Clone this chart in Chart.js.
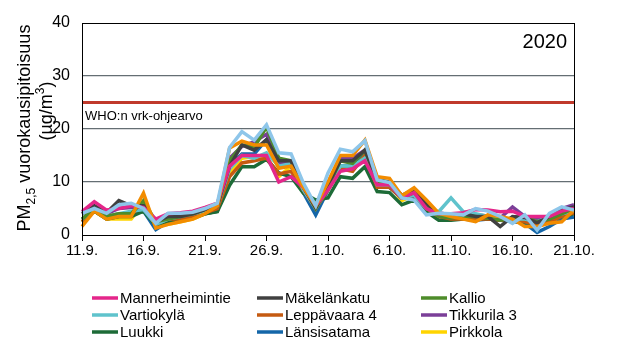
<!DOCTYPE html>
<html>
<head>
<meta charset="utf-8">
<script src="https://cdn.jsdelivr.net/npm/chart.js@4"></script>
<style>
  html, body { margin: 0; padding: 0; background: #fff; }
  #wrap { width: 620px; height: 353px; }
</style>
</head>
<body>
<div id="wrap"><canvas id="grafico"></canvas></div>
<script>
// ============================ DATA ============================ //

const dates = ["11.9.", "12.9.", "13.9.", "14.9.", "15.9.", "16.9.", "17.9.", "18.9.", "19.9.", "20.9.",
  "21.9.", "22.9.", "23.9.", "24.9.", "25.9.", "26.9.", "27.9.", "28.9.", "29.9.", "30.9.",
  "1.10.", "2.10.", "3.10.", "4.10.", "5.10.", "6.10.", "7.10.", "8.10.", "9.10.", "10.10.",
  "11.10.", "12.10.", "13.10.", "14.10.", "15.10.", "16.10.", "17.10.", "18.10.", "19.10.", "20.10.", "21.10."];

const yearLabel = "2020";
const whoLimit = 25;
const whoLabel = "WHO:n vrk-ohjearvo";

const mannerheimintie = [4.4, 6.3, 4.7, 5, 5.5, 5.2, 3, 4, 4.2, 4.5, 5.2, 6, 13, 15, 15, 15, 10, 11, 9, 5.5, 8.5, 12, 12.5, 14, 9.5, 9.5, 7, 8, 5, 4, 4, 4.2, 4.8, 4.7, 4.4, 4.5, 3.5, 3.5, 3.5, 4.5, 5];
const makelankatu = [4, 5.5, 4.2, 6.5, 5.5, 5.5, 2.5, 3.5, 3.5, 4, 4.8, 5.5, 13, 17, 16, 18, 14, 14, 9, 5.2, 9.5, 14, 14, 16, 10.5, 10, 7.5, 8.5, 6, 4, 3.8, 4, 3.5, 3.5, 1.6, 3.5, 3.3, 2.3, 3.5, 4.7, 5.3];
const kallio = [3, 5, 3.5, 4, 4, 6.5, 2.5, 3, 3.5, 4, 4.8, 5.5, 14, 17, 16.5, 20.4, 14.5, 14, 9, 5, 9, 14, 13.5, 16, 10, 9.5, 7, 8, 5.5, 3.5, 3.2, 3.5, 3.5, 3.2, 2.8, 3.2, 3.5, 2.5, 3, 4, 5];
const vartiokyla = [3, 5, 3.5, 4, 4.5, 4.8, 2, 3, 3.5, 4, 4.5, 5.5, 12.5, 15, 14.5, 15.5, 13, 13.5, 8.5, 5, 9, 13, 13, 14.5, 9.5, 9.5, 7, 7.5, 5, 4.4, 7, 4.4, 4, 3.5, 3, 3, 3, 2.5, 3.5, 4, 4.5];
const leppavaara = [2.5, 4.8, 3.5, 4, 4, 5.5, 2, 3, 3, 3.5, 4.2, 5, 11, 13.6, 14, 14.5, 11.5, 12, 8.5, 5, 8.5, 12.5, 12, 15, 9, 9, 7, 7.5, 5, 3.5, 3, 3, 3, 3, 2.8, 3, 2.5, 2, 2.5, 3.5, 4.2];
const tikkurila = [4, 5.5, 4, 5, 5.2, 5.2, 2.5, 3.5, 3.5, 4, 4.5, 5.5, 14.5, 16.7, 17.6, 19, 13.5, 13.5, 8.5, 5, 9, 14.5, 14.5, 16, 10, 9.5, 7, 7.5, 5.5, 4.2, 3.8, 3.8, 3.8, 3.6, 3.2, 5.3, 3.5, 3, 3, 5, 5.7];
const luukki = [2.5, 4.5, 3, 3.5, 3.5, 4.5, 1.8, 2.5, 2.8, 3.2, 4, 4.4, 9.4, 12.9, 12.9, 14.3, 11.7, 11, 7.9, 6.6, 7, 11, 10.7, 12.9, 8.2, 8, 5.7, 6.6, 4.4, 2.8, 2.8, 3, 3, 3, 2.8, 2.6, 2.4, 1.8, 2.8, 3.5, 4];
const lansisatama = [3, 4.5, 3.2, 3.8, 4, 4.5, 1, 2.5, 3, 3.5, 4, 4.5, 13, 15.3, 15.3, 18, 13, 13, 8, 3.8, 8.5, 13, 13, 16, 10, 9, 7, 7, 5, 3.5, 3, 3, 2.8, 3, 3, 2.6, 2.2, 0.5, 1.6, 3, 3.4];
const pirkkola = [2.5, 4.5, 3, 3, 3, 6, 1.5, 2, 2.5, 3, 4, 4.5, 11.7, 14.5, 14.8, 14.8, 11, 13, 8.5, 5, 8.5, 12.5, 13, 15, 9.5, 9.5, 6.5, 7.5, 5.5, 3.5, 3, 3, 3.2, 3, 2.8, 3, 2.8, 2, 2.5, 3.8, 4.5];
// two stations drawn in the chart but missing from the legend
const vaaleansininen = [4.1, 5, 4.1, 5.7, 6, 5, 2.2, 4.1, 4.1, 4.3, 5, 6, 16.5, 19.5, 17.9, 20.8, 15.5, 15.3, 9.8, 5.5, 11.7, 16.2, 15.7, 17.8, 10.4, 9.9, 7, 6.6, 3.8, 4.1, 4, 3.8, 5, 4.5, 3.5, 2.2, 3.8, 0.9, 4.1, 5.3, 4.7];
const oranssi = [1.6, 4.5, 3, 3.5, 3.5, 7.9, 1.3, 2, 2.5, 3, 4, 5.5, 16.4, 17.7, 17, 17, 12.6, 13, 9, 5.5, 10, 15, 15, 17.9, 11, 10.7, 7.4, 8.9, 6.6, 4.1, 3.5, 3, 2.5, 3.8, 3.5, 3, 1.6, 1.6, 2.2, 2.5, 4.7];

// ============================ CONFIG ============================ //

function serie(label, values, color, legend) {
  return {
    label: label,
    data: values,
    borderColor: color,
    backgroundColor: color,
    borderWidth: 3.5,
    pointRadius: 0,
    tension: 0,
    hideInLegend: legend === false,
  };
}

const datasets = [
  serie("", vaaleansininen, "rgb(142, 198, 234)", false),
  serie("", oranssi, "rgb(242, 140, 0)", false),
  serie("Mannerheimintie", mannerheimintie, "rgb(228, 38, 138)"),
  serie("Mäkelänkatu", makelankatu, "rgb(64, 64, 64)"),
  serie("Kallio", kallio, "rgb(78, 140, 42)"),
  serie("Vartiokylä", vartiokyla, "rgb(95, 195, 204)"),
  serie("Leppävaara 4", leppavaara, "rgb(197, 90, 17)"),
  serie("Tikkurila 3", tikkurila, "rgb(123, 63, 152)"),
  serie("Luukki", luukki, "rgb(29, 107, 55)"),
  serie("Länsisatama", lansisatama, "rgb(20, 102, 168)"),
  serie("Pirkkola", pirkkola, "rgb(255, 212, 0)"),
];

// plot frame, WHO line and texts
const extras = {
  id: "extras",
  beforeDatasetsDraw(chart) {
    const { ctx, chartArea: a, scales } = chart;
    const y = scales.y.getPixelForValue(whoLimit);
    ctx.save();
    ctx.strokeStyle = "rgb(192, 57, 43)";
    ctx.lineWidth = 3;
    ctx.beginPath();
    ctx.moveTo(a.left, y);
    ctx.lineTo(a.right, y);
    ctx.stroke();
    ctx.fillStyle = "#000";
    ctx.font = "13px 'Liberation Sans', Arial, sans-serif";
    ctx.textBaseline = "alphabetic";
    ctx.fillText(whoLabel, a.left + 3, y + 17);
    ctx.restore();
  },
  afterDraw(chart) {
    const { ctx, chartArea: a } = chart;
    ctx.save();
    ctx.strokeStyle = "#000";
    ctx.lineWidth = 1;
    ctx.strokeRect(a.left + 0.5, a.top + 0.5, a.right - a.left, a.bottom - a.top);

    ctx.fillStyle = "#000";
    ctx.font = "20px 'Liberation Sans', Arial, sans-serif";
    ctx.textAlign = "right";
    ctx.fillText(yearLabel, a.right - 7, a.top + 25);

    // y title, rotated, with sub/superscript
    const big = "18px 'Liberation Sans', Arial, sans-serif";
    const small = "12px 'Liberation Sans', Arial, sans-serif";
    function rich(parts, cx, cy) {
      ctx.save();
      ctx.translate(cx, cy);
      ctx.rotate(-Math.PI / 2);
      ctx.textAlign = "left";
      let w = 0;
      parts.forEach(p => { ctx.font = p[1]; w += ctx.measureText(p[0]).width; });
      let x = -w / 2;
      parts.forEach(p => {
        ctx.font = p[1];
        ctx.fillText(p[0], x, p[2]);
        x += ctx.measureText(p[0]).width;
      });
      ctx.restore();
    }
    rich([["PM", big, 0], ["2,5", small, 5], [" vuorokausipitoisuus", big, 0]], 30, 128);
    rich([["(µg/m", big, 0], ["3", small, -8], [")", big, 0]], 52, 111);

    // legend in three columns
    const cols = [92, 257, 421];
    const rows = [298, 315, 332];
    ctx.font = "15px 'Liberation Sans', Arial, sans-serif";
    ctx.textAlign = "left";
    ctx.textBaseline = "middle";
    let k = 0;
    chart.data.datasets.forEach(ds => {
      if (ds.hideInLegend) return;
      const x = cols[k % 3];
      const y = rows[Math.floor(k / 3)];
      ctx.strokeStyle = ds.borderColor;
      ctx.lineWidth = 3.5;
      ctx.beginPath();
      ctx.moveTo(x, y);
      ctx.lineTo(x + 26, y);
      ctx.stroke();
      ctx.fillStyle = "#000";
      ctx.fillText(ds.label, x + 28, y + 1);
      k++;
    });
    ctx.restore();
  },
};

const config = {
  type: "line",
  data: { labels: dates, datasets: datasets },
  options: {
    responsive: true,
    maintainAspectRatio: false,
    animation: false,
    layout: { padding: { top: 23, right: 46, bottom: 88, left: 0 } },
    plugins: { legend: { display: false }, tooltip: { enabled: false } },
    scales: {
      x: {
        offset: false,
        afterFit: s => { s.height = 30; },
        grid: {
          drawOnChartArea: false,
          tickLength: 6,
          color: c => (c.index % 5 === 0 ? "#000" : "transparent"),
        },
        border: { color: "#000", width: 1 },
        ticks: {
          autoSkip: false,
          maxRotation: 0,
          padding: 1,
          color: "#000",
          font: { family: "'Liberation Sans', Arial, sans-serif", size: 15 },
          callback: (v, i) => (i % 5 === 0 ? dates[i] : ""),
        },
      },
      y: {
        min: 0,
        max: 40,
        afterFit: s => { s.width = 82; },
        grid: {
          drawTicks: false,
          lineWidth: 1.3,
          color: c => (c.tick.value === 0 || c.tick.value === 40 ? "transparent" : "rgb(100, 110, 115)"),
        },
        border: { color: "#000", width: 1 },
        ticks: {
          stepSize: 10,
          padding: 12,
          color: "#000",
          font: { family: "'Liberation Sans', Arial, sans-serif", size: 16 },
        },
      },
    },
  },
  plugins: [extras],
};

const grafico = new Chart(document.getElementById("grafico"), config);
</script>
</body>
</html>
